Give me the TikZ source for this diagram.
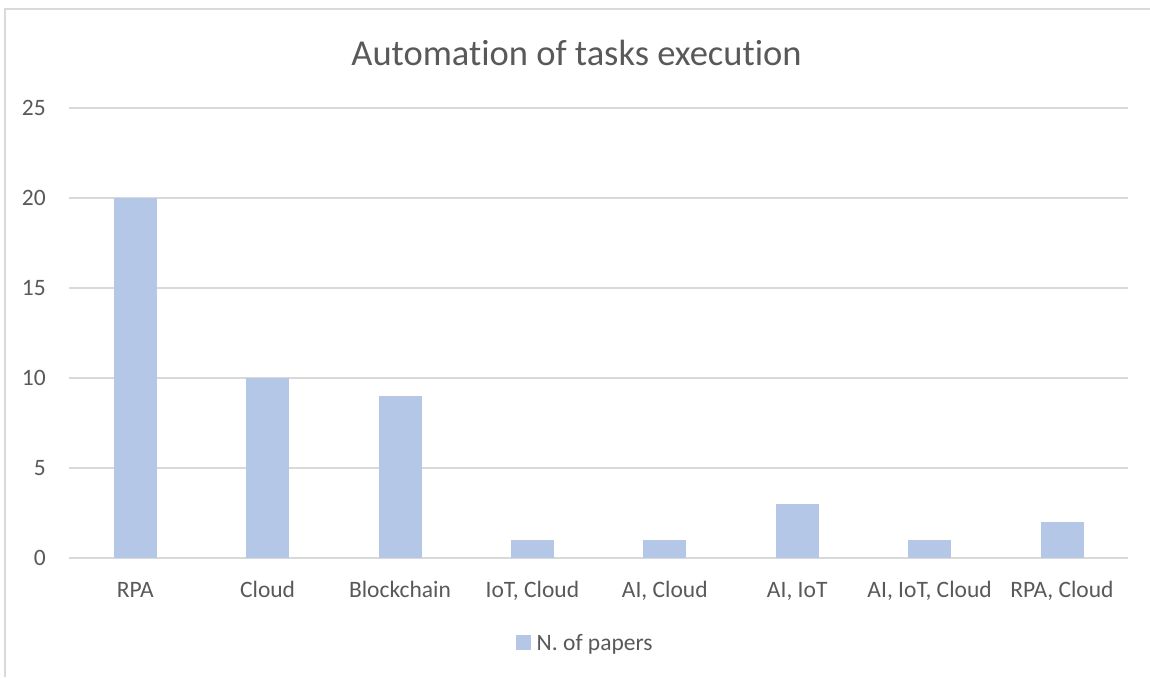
\documentclass[tikz,border=0pt]{standalone}
\usepackage{fontspec}
\setmainfont{Carlito}[Ligatures=NoCommon]
\definecolor{barfill}{HTML}{B4C7E7}
\definecolor{gridgray}{HTML}{D9D9D9}
\definecolor{labelgray}{HTML}{595959}
\begin{document}
\begin{tikzpicture}[x=1pt,y=-1pt,
  gridline/.style={draw=gridgray,line width=1.3pt},
  chartbar/.style={fill=barfill,draw=none},
  ticklabel/.style={text=labelgray,font=\fontsize{23.5}{28}\selectfont,anchor=east,inner sep=0pt},
  catlabel/.style={text=labelgray,font=\fontsize{23.5}{28}\selectfont,anchor=base,inner sep=0pt},
  charttitle/.style={text=labelgray,font=\fontsize{36.5}{44}\selectfont,anchor=base,inner sep=0pt}]
\useasboundingbox (0,0) rectangle (1150,677);
\fill[white] (0,0) rectangle (1150,677);
% chart frame (left and top edges)
\draw[gridgray,line width=1.3pt] (5,677) -- (5,9) -- (1150,9);
% title
\node[charttitle] (title) at (576.5,65) {Automation of tasks execution};
% horizontal gridlines and value labels
\foreach \v [count=\i from 0] in {0,5,10,15,20,25}{
  \draw[gridline] (69,558-18*\v) -- (1128,558-18*\v);
  \node[ticklabel] (tick\i) at (46,558-18*\v) {\v};
}
% bars with category labels
\foreach \val/\lab [count=\i from 0] in {20/RPA,10/Cloud,9/Blockchain,1/{IoT, Cloud},1/{AI, Cloud},3/{AI, IoT},1/{AI, IoT, Cloud},2/{RPA, Cloud}}{
  \pgfmathsetmacro{\cx}{135.2+132.4*\i}
  \fill[chartbar] (\cx-21.5,558) rectangle (\cx+21.5,558-18*\val);
  \node[catlabel] (cat\i) at (\cx,597) {\lab};
}
% legend
\fill[barfill] (516,635) rectangle (531,650);
\node[text=labelgray,font=\fontsize{23.5}{28}\selectfont,anchor=base west,inner sep=0pt] (legend) at (536.5,650) {N. of papers};
\end{tikzpicture}
\end{document}
